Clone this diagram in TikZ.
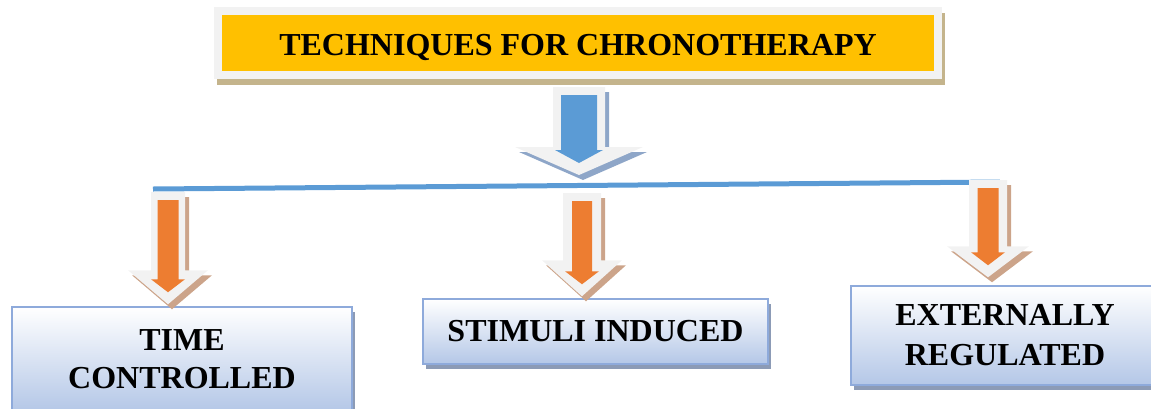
\documentclass[tikz,border=0pt]{standalone}
\usepackage{fontspec}
\setmainfont{Liberation Serif}
\usetikzlibrary{calc,shadows}

\definecolor{titlefill}{HTML}{FFC000}
\definecolor{framegray}{HTML}{F2F2F2}
\definecolor{titleshadow}{RGB}{196,180,140}
\definecolor{arrowblue}{HTML}{5B9BD5}
\definecolor{blueshadow}{RGB}{142,166,200}
\definecolor{arroworange}{HTML}{ED7D31}
\definecolor{orangeshadow}{RGB}{204,164,138}
\definecolor{boxline}{HTML}{8EAADB}
\definecolor{boxblue}{HTML}{B4C7E7}
\definecolor{boxshadow}{RGB}{140,155,182}

% outline of a fat down arrow: top, tip, shaft half width, head half width, head length
\newcommand{\arrowoutline}[5]{($(#1)+(-#3,0)$) -- ($(#2)+(-#3,-#5)$) -- ($(#2)+(-#4,-#5)$) -- (#2) -- ($(#2)+(#4,-#5)$) -- ($(#2)+(#3,-#5)$) -- ($(#1)+(#3,0)$) -- cycle}
\newcommand{\fatarrow}[9]{%
  \fill[#2,transform canvas={xshift=4pt,yshift=-5pt}] \arrowoutline{#3}{#4}{#5}{#6}{#7};
  \fill[framegray] \arrowoutline{#3}{#4}{#5}{#6}{#7};
  \coordinate (it) at ($(#3)+(0,8)$);
  \coordinate (ip) at ($(#4)+(0,-12)$);
  \fill[#1] \arrowoutline{it}{ip}{#8}{#9}{13};
}

\begin{document}
\begin{tikzpicture}[x=1pt,y=-1pt]
  \tikzstyle{head}=[fill=titlefill,draw=framegray,line width=8pt,minimum width=720pt,minimum height=64pt,inner sep=0pt,
    font=\bfseries\fontsize{32}{38}\selectfont,text height=24pt,text depth=0pt,
    drop shadow={shadow xshift=2.5pt,shadow yshift=-5.5pt,fill=titleshadow,draw=titleshadow,opacity=1}]
  \tikzstyle{cat}=[draw=boxline,line width=1.5pt,top color=white,bottom color=boxblue,inner sep=0pt,align=center,
    font=\bfseries\fontsize{32}{38}\selectfont,
    drop shadow={shadow xshift=3pt,shadow yshift=-4.5pt,fill=boxshadow,opacity=1}]
  \tikzstyle{bar}=[draw=arrowblue,line width=5pt]

  \useasboundingbox (0,0) rectangle (1151,408);
  \clip (0,0) rectangle (1151,408);

  \node[head] (tech) at (578,43) {TECHNIQUES FOR CHRONOTHERAPY};

  \coordinate (bt) at ($(tech.south)+(1,8)$);
  \coordinate (bp) at (579,175);
  \fatarrow{arrowblue}{blueshadow}{bt}{bp}{26}{64}{28}{18}{24}

  \coordinate (barL) at (153,189);
  \coordinate (barR) at (1000,182);
  \draw[bar] (barL) -- (barR);

  \node[cat,minimum width=340pt,minimum height=104pt] (time) at (182,359) {TIME\\CONTROLLED};
  \node[cat,minimum width=345pt,minimum height=65pt,text height=22pt,text depth=3pt] (stim) at (595.5,331.5) {STIMULI INDUCED};
  \node[cat,minimum width=308pt,minimum height=99pt,font=\bfseries\fontsize{32}{40}\selectfont] (ext) at (1005,335.5) {EXTERNALLY\\REGULATED};

  \coordinate (t1) at (168,192);
  \coordinate (p1) at ([yshift=2pt]time.north -| t1);
  \coordinate (t2) at (582,193);
  \coordinate (p2) at ([yshift=2pt]stim.north -| t2);
  \coordinate (t3) at (988,180);
  \coordinate (p3) at ([yshift=8pt]ext.north -| t3);
  \fatarrow{arroworange}{orangeshadow}{t1}{p1}{17}{40}{34}{10.5}{17}
  \fatarrow{arroworange}{orangeshadow}{t2}{p2}{19}{40}{36}{10}{17}
  \fatarrow{arroworange}{orangeshadow}{t3}{p3}{19}{41}{31}{10.5}{17}
\end{tikzpicture}
\end{document}
